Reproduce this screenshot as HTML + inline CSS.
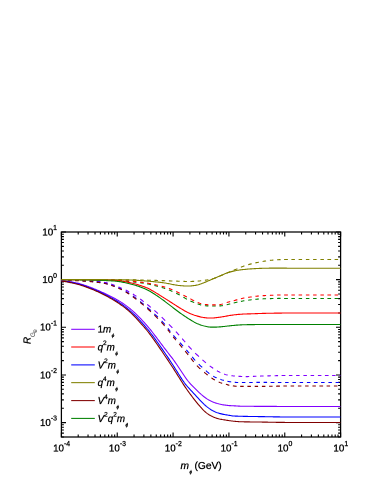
<!DOCTYPE html>
<html><head><meta charset="utf-8"><title>chart</title>
<style>
html,body{margin:0;padding:0;background:#fff;}
body{width:383px;height:495px;position:relative;overflow:hidden;font-family:"Liberation Sans",sans-serif;color:#000;}
.L{position:absolute;left:0;top:0;width:766px;height:990px;transform:scale(0.5);transform-origin:0 0;will-change:transform;}
.t{position:absolute;white-space:nowrap;line-height:1;}
.k{font-size:19.6px;-webkit-text-stroke:0.56px #000;}
.c{text-align:center;}
.s{font-size:13.8px;position:relative;top:-10.6px;}
.s2{font-size:13.0px;position:relative;top:-10.4px;}
.b{font-size:9.6px;position:relative;top:9.0px;left:0.8px;font-style:italic;}
.g{color:#333;-webkit-text-stroke:0;}
</style></head><body>
<svg width="383" height="495" viewBox="0 0 383 495" style="position:absolute;left:0;top:0"><rect x="61.4" y="232.0" width="279.2" height="205.0" fill="none" stroke="#000" stroke-width="1.25"/>
<path d="M61.40 437.0v-4.6M61.40 232.0v4.6M78.21 437.0v-2.5M78.21 232.0v2.5M88.04 437.0v-2.5M88.04 232.0v2.5M95.02 437.0v-2.5M95.02 232.0v2.5M100.43 437.0v-2.5M100.43 232.0v2.5M104.85 437.0v-2.5M104.85 232.0v2.5M108.59 437.0v-2.5M108.59 232.0v2.5M111.83 437.0v-2.5M111.83 232.0v2.5M114.68 437.0v-2.5M114.68 232.0v2.5M117.24 437.0v-4.6M117.24 232.0v4.6M134.05 437.0v-2.5M134.05 232.0v2.5M143.88 437.0v-2.5M143.88 232.0v2.5M150.86 437.0v-2.5M150.86 232.0v2.5M156.27 437.0v-2.5M156.27 232.0v2.5M160.69 437.0v-2.5M160.69 232.0v2.5M164.43 437.0v-2.5M164.43 232.0v2.5M167.67 437.0v-2.5M167.67 232.0v2.5M170.52 437.0v-2.5M170.52 232.0v2.5M173.08 437.0v-4.6M173.08 232.0v4.6M189.89 437.0v-2.5M189.89 232.0v2.5M199.72 437.0v-2.5M199.72 232.0v2.5M206.70 437.0v-2.5M206.70 232.0v2.5M212.11 437.0v-2.5M212.11 232.0v2.5M216.53 437.0v-2.5M216.53 232.0v2.5M220.27 437.0v-2.5M220.27 232.0v2.5M223.51 437.0v-2.5M223.51 232.0v2.5M226.36 437.0v-2.5M226.36 232.0v2.5M228.92 437.0v-4.6M228.92 232.0v4.6M245.73 437.0v-2.5M245.73 232.0v2.5M255.56 437.0v-2.5M255.56 232.0v2.5M262.54 437.0v-2.5M262.54 232.0v2.5M267.95 437.0v-2.5M267.95 232.0v2.5M272.37 437.0v-2.5M272.37 232.0v2.5M276.11 437.0v-2.5M276.11 232.0v2.5M279.35 437.0v-2.5M279.35 232.0v2.5M282.20 437.0v-2.5M282.20 232.0v2.5M284.76 437.0v-4.6M284.76 232.0v4.6M301.57 437.0v-2.5M301.57 232.0v2.5M311.40 437.0v-2.5M311.40 232.0v2.5M318.38 437.0v-2.5M318.38 232.0v2.5M323.79 437.0v-2.5M323.79 232.0v2.5M328.21 437.0v-2.5M328.21 232.0v2.5M331.95 437.0v-2.5M331.95 232.0v2.5M335.19 437.0v-2.5M335.19 232.0v2.5M338.04 437.0v-2.5M338.04 232.0v2.5M340.60 437.0v-4.6M340.60 232.0v4.6M61.4 436.94h2.5M340.6 436.94h-2.5M61.4 433.17h2.5M340.6 433.17h-2.5M61.4 429.98h2.5M340.6 429.98h-2.5M61.4 427.22h2.5M340.6 427.22h-2.5M61.4 424.78h2.5M340.6 424.78h-2.5M61.4 422.60h4.6M340.6 422.60h-4.6M61.4 408.26h2.5M340.6 408.26h-2.5M61.4 399.87h2.5M340.6 399.87h-2.5M61.4 393.91h2.5M340.6 393.91h-2.5M61.4 389.29h2.5M340.6 389.29h-2.5M61.4 385.52h2.5M340.6 385.52h-2.5M61.4 382.33h2.5M340.6 382.33h-2.5M61.4 379.57h2.5M340.6 379.57h-2.5M61.4 377.13h2.5M340.6 377.13h-2.5M61.4 374.95h4.6M340.6 374.95h-4.6M61.4 360.61h2.5M340.6 360.61h-2.5M61.4 352.22h2.5M340.6 352.22h-2.5M61.4 346.26h2.5M340.6 346.26h-2.5M61.4 341.64h2.5M340.6 341.64h-2.5M61.4 337.87h2.5M340.6 337.87h-2.5M61.4 334.68h2.5M340.6 334.68h-2.5M61.4 331.92h2.5M340.6 331.92h-2.5M61.4 329.48h2.5M340.6 329.48h-2.5M61.4 327.30h4.6M340.6 327.30h-4.6M61.4 312.96h2.5M340.6 312.96h-2.5M61.4 304.57h2.5M340.6 304.57h-2.5M61.4 298.61h2.5M340.6 298.61h-2.5M61.4 293.99h2.5M340.6 293.99h-2.5M61.4 290.22h2.5M340.6 290.22h-2.5M61.4 287.03h2.5M340.6 287.03h-2.5M61.4 284.27h2.5M340.6 284.27h-2.5M61.4 281.83h2.5M340.6 281.83h-2.5M61.4 279.65h4.6M340.6 279.65h-4.6M61.4 265.31h2.5M340.6 265.31h-2.5M61.4 256.92h2.5M340.6 256.92h-2.5M61.4 250.96h2.5M340.6 250.96h-2.5M61.4 246.34h2.5M340.6 246.34h-2.5M61.4 242.57h2.5M340.6 242.57h-2.5M61.4 239.38h2.5M340.6 239.38h-2.5M61.4 236.62h2.5M340.6 236.62h-2.5M61.4 234.18h2.5M340.6 234.18h-2.5M61.4 232.00h4.6M340.6 232.00h-4.6" stroke="#000" stroke-width="1.1" fill="none"/>
<path d="M71.2 329.3H94.8" stroke="#8000ff" stroke-width="1.05" fill="none"/>
<path d="M71.2 347.0H94.8" stroke="#ff0000" stroke-width="1.05" fill="none"/>
<path d="M71.2 364.9H94.8" stroke="#0000ff" stroke-width="1.05" fill="none"/>
<path d="M71.2 382.65H94.8" stroke="#808000" stroke-width="1.05" fill="none"/>
<path d="M71.2 400.6H94.8" stroke="#800000" stroke-width="1.05" fill="none"/>
<path d="M71.2 418.4H94.8" stroke="#008000" stroke-width="1.05" fill="none"/>
<path d="M61.4 279.91L62.4 279.92L63.4 279.93L64.2 279.94M67.9 280.02L68.9 280.04L69.9 280.07L70.9 280.10L71.4 280.11M75.2 280.24L76.2 280.27L77.2 280.31L78.2 280.34L78.7 280.36M82.4 280.51L83.4 280.55L84.4 280.59L85.4 280.63L85.9 280.65M89.7 280.83L90.7 280.88L91.7 280.93L92.7 280.99L93.2 281.02M96.7 281.27L97.7 281.36L98.7 281.45L99.7 281.56L100.4 281.65M103.9 282.22L104.9 282.42L105.9 282.64L106.9 282.87L107.7 283.05M111.2 284.09L112.2 284.43L113.2 284.79L114.2 285.17L114.7 285.37M118.4 286.89L119.4 287.30L120.4 287.73L121.4 288.15L121.9 288.37M125.7 290.11L126.7 290.60L127.7 291.11L128.7 291.64L129.2 291.91M132.9 294.09L133.9 294.72L134.9 295.37L135.9 296.04L136.4 296.38M140.2 299.06L141.2 299.80L142.2 300.56L143.2 301.32L143.7 301.70M147.2 304.43L148.2 305.22L149.2 306.03L150.2 306.84L150.9 307.46M154.4 310.44L155.4 311.32L156.4 312.21L157.4 313.11L157.9 313.57M161.7 317.10L162.7 318.09L163.7 319.10L164.7 320.12L165.2 320.63M168.9 324.38L169.9 325.37L170.9 326.38L171.9 327.39L172.4 327.91M175.9 331.60L176.9 332.69L177.9 333.78L178.9 334.89L179.2 335.17M182.2 338.61L183.2 339.79L184.2 340.98L185.2 342.18M188.4 345.96L189.4 347.06L190.4 348.15L191.4 349.21L191.7 349.48M195.2 353.05L196.2 354.04L197.2 355.00L198.2 355.95L198.9 356.66M202.4 359.83L203.4 360.70L204.4 361.56L205.4 362.41L205.9 362.83M209.7 365.85L210.7 366.60L211.7 367.32L212.7 368.02L213.2 368.36M216.9 370.73L217.9 371.30L218.9 371.84L219.9 372.35L220.4 372.59M224.2 374.15L225.2 374.46L226.2 374.73L227.2 374.97L227.7 375.08M231.4 375.70L232.4 375.82L233.4 375.93L234.4 376.02L234.9 376.07M238.4 376.31L239.4 376.36L240.4 376.41L241.4 376.45L242.2 376.48M245.7 376.58L246.7 376.59L247.7 376.58L248.7 376.57L249.2 376.56M252.9 376.42L253.9 376.37L254.9 376.32L255.9 376.27L256.4 376.25M260.1 376.10L261.1 376.07L262.1 376.04L263.1 376.01L263.6 376.00M267.4 375.89L268.4 375.87L269.4 375.84L270.4 375.81L270.9 375.80M274.6 375.71L275.6 375.68L276.6 375.66L277.6 375.64L278.1 375.63M281.6 375.57L282.6 375.55L283.6 375.54L284.6 375.53L285.4 375.52M288.9 375.50L289.9 375.50L290.9 375.50L291.9 375.50L292.4 375.50M296.1 375.50L297.1 375.50L298.1 375.50L299.1 375.50L299.6 375.50M303.4 375.50L304.4 375.50L305.4 375.50L306.4 375.50L306.9 375.50M310.6 375.50L311.6 375.50L312.6 375.50L313.6 375.50L314.1 375.50M317.9 375.50L318.9 375.50L319.9 375.50L320.9 375.50L321.4 375.50M324.9 375.50L325.9 375.50L326.9 375.50L327.9 375.50L328.6 375.50M332.1 375.50L333.1 375.50L334.1 375.50L335.1 375.50L335.6 375.50M339.4 375.50L340.4 375.50" stroke="#8000ff" stroke-width="1.1" fill="none"/>
<path d="M61.4 279.96L62.4 279.97L63.4 279.98L64.2 279.99M67.9 280.07L68.9 280.09L69.9 280.13L70.9 280.16L71.4 280.18M75.2 280.33L76.2 280.38L77.2 280.43L78.2 280.48L78.7 280.50M82.4 280.69L83.4 280.75L84.4 280.80L85.4 280.86L85.9 280.90M89.7 281.17L90.7 281.26L91.7 281.35L92.7 281.45L93.2 281.50M96.7 281.88L97.7 282.00L98.7 282.13L99.7 282.27L100.4 282.38M103.9 283.02L104.9 283.24L105.9 283.47L106.9 283.71L107.7 283.91M111.2 284.97L112.2 285.31L113.2 285.68L114.2 286.05L114.7 286.25M118.4 287.81L119.4 288.25L120.4 288.70L121.4 289.17L121.9 289.42M125.7 291.41L126.7 291.99L127.7 292.58L128.7 293.19L129.2 293.50M132.9 295.97L133.9 296.68L134.9 297.40L135.9 298.15L136.4 298.53M140.2 301.50L141.2 302.32L142.2 303.15L143.2 303.99L143.7 304.41M147.2 307.41L148.2 308.27L149.2 309.14L150.2 310.02L150.9 310.68M154.4 313.85L155.4 314.78L156.4 315.73L157.4 316.69L157.9 317.18M161.7 320.98L162.7 322.04L163.7 323.13L164.7 324.26L164.9 324.55M167.9 328.31L168.9 329.65L169.9 331.00L170.4 331.67M173.4 335.44L174.4 336.59L175.4 337.70L176.4 338.78M179.9 342.54L180.9 343.64L181.9 344.76L182.9 345.89L183.2 346.18M186.4 349.92L187.4 351.10L188.4 352.29L189.2 353.19M192.2 356.91L193.2 358.15L194.2 359.35L195.2 360.51M198.7 364.17L199.7 365.13L200.7 366.05L201.7 366.96L202.2 367.40M205.9 370.69L206.9 371.56L207.9 372.41L208.9 373.23L209.4 373.62M213.2 376.11L214.2 376.66L215.2 377.16L216.2 377.63L216.7 377.86M220.4 379.33L221.4 379.67L222.4 379.98L223.4 380.26L223.9 380.40M227.4 381.25L228.4 381.46L229.4 381.65L230.4 381.81L231.2 381.92M234.7 382.29L235.7 382.37L236.7 382.44L237.7 382.49L238.2 382.50M241.9 382.53L242.9 382.53L243.9 382.52L244.9 382.51L245.4 382.51M249.2 382.47L250.2 382.46L251.2 382.45L252.2 382.45L252.7 382.44M256.4 382.41L257.4 382.41L258.4 382.40L259.4 382.40L259.9 382.40M263.6 382.40L264.6 382.41L265.6 382.41L266.6 382.41L267.1 382.41M270.6 382.43L271.6 382.43L272.6 382.44L273.6 382.44L274.4 382.45M277.9 382.46L278.9 382.47L279.9 382.47L280.9 382.48L281.4 382.48M285.1 382.49L286.1 382.49L287.1 382.50L288.1 382.50L288.6 382.50M292.4 382.50L293.4 382.50L294.4 382.50L295.4 382.50L295.9 382.50M299.6 382.50L300.6 382.50L301.6 382.50L302.6 382.50L303.1 382.50M306.9 382.50L307.9 382.50L308.9 382.50L309.9 382.50L310.4 382.50M313.9 382.50L314.9 382.50L315.9 382.50L316.9 382.50L317.6 382.50M321.1 382.50L322.1 382.50L323.1 382.50L324.1 382.50L324.6 382.50M328.4 382.50L329.4 382.50L330.4 382.50L331.4 382.50L331.9 382.50M335.6 382.50L336.6 382.50L337.6 382.50L338.6 382.50L339.1 382.50" stroke="#0000ff" stroke-width="1.1" fill="none"/>
<path d="M61.4 280.02L62.4 280.04L63.4 280.07L64.2 280.09M67.9 280.23L68.9 280.27L69.9 280.31L70.9 280.36L71.4 280.39M75.2 280.58L76.2 280.64L77.2 280.70L78.2 280.76L78.7 280.79M82.4 281.03L83.4 281.10L84.4 281.16L85.4 281.23L85.9 281.27M89.7 281.56L90.7 281.65L91.7 281.74L92.7 281.84L93.2 281.89M96.7 282.26L97.7 282.38L98.7 282.51L99.7 282.64L100.4 282.75M103.9 283.36L104.9 283.57L105.9 283.79L106.9 284.03L107.7 284.22M111.2 285.28L112.2 285.63L113.2 286.00L114.2 286.38L114.7 286.58M118.4 288.18L119.4 288.64L120.4 289.11L121.4 289.60L121.9 289.86M125.7 291.96L126.7 292.56L127.7 293.19L128.7 293.83L129.2 294.16M132.9 296.72L133.9 297.45L134.9 298.19L135.9 298.96L136.4 299.35M140.2 302.38L141.2 303.22L142.2 304.07L143.2 304.92L143.7 305.36M147.2 308.43L148.2 309.32L149.2 310.23L150.2 311.13L150.9 311.82M154.4 315.12L155.4 316.08L156.4 317.07L157.4 318.07L157.9 318.57M161.4 322.22L162.4 323.31L163.4 324.42L164.4 325.56L164.7 325.85M167.7 329.56L168.7 330.89L169.7 332.23L170.2 332.90M173.2 336.79L174.2 338.03L175.2 339.24L175.9 340.14M179.2 343.97L180.2 345.15L181.2 346.34L182.2 347.53M185.2 351.13L186.2 352.34L187.2 353.57L188.2 354.83M190.9 358.36L191.9 359.64L192.9 360.91L193.7 361.83M196.9 365.52L197.9 366.55L198.9 367.54L199.9 368.48L200.4 368.95M204.2 372.24L205.2 373.08L206.2 373.91L207.2 374.72L207.7 375.11M211.4 377.87L212.4 378.54L213.4 379.18L214.4 379.80L214.9 380.11M218.7 382.07L219.7 382.48L220.7 382.82L221.7 383.13L222.2 383.27M225.9 384.28L226.9 384.58L227.9 384.88L228.9 385.16L229.4 385.29M232.9 385.91L233.9 386.03L234.9 386.13L235.9 386.22L236.7 386.27M240.2 386.38L241.2 386.38L242.2 386.39L243.2 386.39L243.7 386.39M247.4 386.39L248.4 386.39L249.4 386.40L250.4 386.40L250.9 386.40M254.7 386.40L255.7 386.40L256.6 386.40L257.6 386.40L258.1 386.40M261.9 386.39L262.9 386.39L263.9 386.38L264.9 386.37L265.4 386.36M269.1 386.31L270.1 386.29L271.1 386.27L272.1 386.26L272.6 386.25M276.1 386.18L277.1 386.16L278.1 386.14L279.1 386.12L279.9 386.11M283.4 386.05L284.4 386.04L285.4 386.03L286.4 386.02L286.9 386.01M290.6 386.00L291.6 386.00L292.6 386.00L293.6 386.00L294.1 386.00M297.9 386.00L298.9 386.00L299.9 386.00L300.9 386.00L301.4 386.00M305.1 386.00L306.1 386.00L307.1 386.00L308.1 386.00L308.6 386.00M312.4 386.00L313.4 386.00L314.4 386.00L315.4 386.00L315.9 386.00M319.4 386.00L320.4 386.00L321.4 386.00L322.4 386.00L323.1 386.00M326.6 386.00L327.6 386.00L328.6 386.00L329.6 386.00L330.1 386.00M333.9 386.00L334.9 386.00L335.9 386.00L336.9 386.00L337.4 386.00" stroke="#800000" stroke-width="1.1" fill="none"/>
<path d="M61.4 279.65L62.4 279.65L63.4 279.65L64.2 279.65M67.9 279.65L68.9 279.65L69.9 279.65L70.9 279.65L71.4 279.65M75.2 279.65L76.2 279.65L77.2 279.65L78.2 279.65L78.7 279.65M82.4 279.65L83.4 279.65L84.4 279.65L85.4 279.65L85.9 279.65M89.7 279.65L90.7 279.65L91.7 279.65L92.7 279.65L93.2 279.65M96.7 279.65L97.7 279.65L98.7 279.65L99.7 279.65L100.4 279.65M103.9 279.65L104.9 279.65L105.9 279.65L106.9 279.65L107.7 279.65M111.2 279.65L112.2 279.65L113.2 279.65L114.2 279.65L114.7 279.65M118.4 279.65L119.4 279.65L120.4 279.65L121.4 279.65L121.9 279.66M125.7 279.69L126.7 279.70L127.7 279.72L128.7 279.73L129.2 279.74M132.9 279.81L133.9 279.84L134.9 279.86L135.9 279.88L136.4 279.89M140.2 279.98L141.2 280.01L142.2 280.03L143.2 280.06L143.7 280.07M147.2 280.15L148.2 280.18L149.2 280.20L150.2 280.23L150.9 280.25M154.4 280.35L155.4 280.38L156.4 280.42L157.4 280.45L157.9 280.46M161.7 280.59L162.7 280.62L163.7 280.65L164.7 280.69L165.2 280.71M168.9 280.85L169.9 280.89L170.9 280.93L171.9 280.96L172.4 280.98M176.2 281.13L177.2 281.17L178.2 281.21L179.2 281.25L179.7 281.26M183.4 281.39L184.4 281.42L185.4 281.45L186.4 281.47L186.9 281.48M190.4 281.46L191.4 281.43L192.4 281.40L193.4 281.35L194.2 281.31M197.7 281.10L198.7 281.02L199.7 280.93L200.7 280.82L201.2 280.77M204.9 280.29L205.9 280.14L206.9 279.97L207.9 279.79L208.4 279.69M212.2 278.83L213.2 278.54L214.2 278.22L215.2 277.87L215.7 277.68M219.4 276.19L220.4 275.78L221.4 275.37L222.4 274.95L222.9 274.73M226.7 273.12L227.7 272.70L228.7 272.29L229.7 271.88L230.2 271.68M233.7 270.28L234.7 269.88L235.7 269.47L236.7 269.05L237.4 268.73M240.9 267.23L241.9 266.82L242.9 266.44L243.9 266.07L244.4 265.89M248.2 264.68L249.2 264.39L250.2 264.12L251.2 263.85L251.7 263.73M255.4 262.87L256.4 262.66L257.4 262.46L258.4 262.27L258.9 262.17M262.6 261.48L263.6 261.31L264.6 261.15L265.6 260.99L266.1 260.92M269.9 260.41L270.9 260.29L271.9 260.18L272.9 260.08L273.4 260.03M277.1 259.74L278.1 259.68L279.1 259.64L280.1 259.61L280.6 259.59M284.1 259.54L285.1 259.53L286.1 259.52L287.1 259.51L287.9 259.51M291.4 259.50L292.4 259.50L293.4 259.50L294.4 259.50L294.9 259.50M298.6 259.50L299.6 259.50L300.6 259.50L301.6 259.50L302.1 259.50M305.9 259.50L306.9 259.50L307.9 259.50L308.9 259.50L309.4 259.50M313.1 259.50L314.1 259.50L315.1 259.50L316.1 259.50L316.6 259.50M320.4 259.50L321.4 259.50L322.4 259.50L323.4 259.50L323.9 259.50M327.4 259.50L328.4 259.50L329.4 259.50L330.4 259.50L331.1 259.50M334.6 259.50L335.6 259.50L336.6 259.50L337.6 259.50L338.1 259.50" stroke="#808000" stroke-width="1.1" fill="none"/>
<path d="M61.4 279.65L62.4 279.65L63.4 279.65L64.2 279.65M67.9 279.66L68.9 279.66L69.9 279.66L70.9 279.67L71.4 279.67M75.2 279.68L76.2 279.69L77.2 279.69L78.2 279.70L78.7 279.70M82.4 279.73L83.4 279.73L84.4 279.74L85.4 279.75L85.9 279.75M89.7 279.79L90.7 279.80L91.7 279.81L92.7 279.82L93.2 279.82M96.7 279.86L97.7 279.87L98.7 279.88L99.7 279.90L100.4 279.91M103.9 279.99L104.9 280.03L105.9 280.06L106.9 280.10L107.7 280.14M111.2 280.30L112.2 280.35L113.2 280.41L114.2 280.46L114.7 280.48M118.4 280.70L119.4 280.76L120.4 280.82L121.4 280.89L121.9 280.93M125.7 281.21L126.7 281.29L127.7 281.37L128.7 281.46L129.2 281.50M132.9 281.87L133.9 281.98L134.9 282.09L135.9 282.21L136.4 282.27M140.2 282.76L141.2 282.91L142.2 283.05L143.2 283.20L143.7 283.28M147.2 283.86L148.2 284.05L149.2 284.25L150.2 284.48L150.9 284.65M154.4 285.54L155.4 285.80L156.4 286.06L157.4 286.33L157.9 286.46M161.7 287.49L162.7 287.78L163.7 288.08L164.7 288.40L165.2 288.57M168.9 289.93L169.9 290.34L170.9 290.75L171.9 291.18L172.4 291.40M176.2 293.19L177.2 293.70L178.2 294.23L179.2 294.77L179.7 295.04M183.4 297.18L184.4 297.78L185.4 298.37L186.4 298.94L186.9 299.22M190.4 300.97L191.4 301.42L192.4 301.85L193.4 302.26L194.2 302.56M197.7 303.86L198.7 304.22L199.7 304.57L200.7 304.90L201.2 305.04M204.9 305.72L205.9 305.79L206.9 305.85L207.9 305.90L208.4 305.92M212.2 305.99L213.2 305.99L214.2 305.99L215.2 305.98L215.7 305.97M219.4 305.89L220.4 305.84L221.4 305.74L222.4 305.61L222.9 305.53M226.7 304.72L227.7 304.49L228.7 304.26L229.7 304.02L230.2 303.90M233.7 303.02L234.7 302.77L235.7 302.53L236.7 302.30L237.4 302.13M240.9 301.37L241.9 301.17L242.9 300.99L243.9 300.82L244.4 300.74M248.2 300.19L249.2 300.06L250.2 299.94L251.2 299.82L251.7 299.76M255.4 299.33L256.4 299.23L257.4 299.14L258.4 299.07L258.9 299.03M262.6 298.85L263.6 298.81L264.6 298.77L265.6 298.74L266.1 298.73M269.9 298.61L270.9 298.58L271.9 298.55L272.9 298.52L273.4 298.51M277.1 298.43L278.1 298.42L279.1 298.41L280.1 298.41L280.6 298.41M284.1 298.44L285.1 298.45L286.1 298.47L287.1 298.48L287.9 298.48M291.4 298.50L292.4 298.50L293.4 298.50L294.4 298.50L294.9 298.50M298.6 298.50L299.6 298.50L300.6 298.50L301.6 298.50L302.1 298.50M305.9 298.50L306.9 298.50L307.9 298.50L308.9 298.50L309.4 298.50M313.1 298.50L314.1 298.50L315.1 298.50L316.1 298.50L316.6 298.50M320.4 298.50L321.4 298.50L322.4 298.50L323.4 298.50L323.9 298.50M327.4 298.50L328.4 298.50L329.4 298.50L330.4 298.50L331.1 298.50M334.6 298.50L335.6 298.50L336.6 298.50L337.6 298.50L338.1 298.50" stroke="#008000" stroke-width="1.1" fill="none"/>
<path d="M61.4 279.65L62.4 279.65L63.4 279.65L64.2 279.65M67.9 279.65L68.9 279.66L69.9 279.66L70.9 279.66L71.4 279.66M75.2 279.67L76.2 279.67L77.2 279.68L78.2 279.68L78.7 279.68M82.4 279.70L83.4 279.70L84.4 279.70L85.4 279.71L85.9 279.71M89.7 279.73L90.7 279.74L91.7 279.74L92.7 279.75L93.2 279.75M96.7 279.78L97.7 279.78L98.7 279.79L99.7 279.80L100.4 279.81M103.9 279.86L104.9 279.88L105.9 279.91L106.9 279.93L107.7 279.95M111.2 280.06L112.2 280.10L113.2 280.13L114.2 280.17L114.7 280.19M118.4 280.34L119.4 280.39L120.4 280.44L121.4 280.50L121.9 280.52M125.7 280.75L126.7 280.81L127.7 280.88L128.7 280.95L129.2 280.99M132.9 281.30L133.9 281.40L134.9 281.50L135.9 281.60L136.4 281.65M140.2 282.10L141.2 282.22L142.2 282.36L143.2 282.49L143.7 282.56M147.2 283.09L148.2 283.25L149.2 283.42L150.2 283.61L150.9 283.75M154.4 284.47L155.4 284.70L156.4 284.93L157.4 285.17L157.9 285.29M161.7 286.26L162.7 286.53L163.7 286.81L164.7 287.10L165.2 287.25M168.9 288.44L169.9 288.78L170.9 289.15L171.9 289.53L172.4 289.73M176.2 291.48L177.2 292.01L178.2 292.54L179.2 293.08L179.7 293.34M183.4 295.25L184.4 295.75L185.4 296.24L186.4 296.75L186.9 297.00M190.4 298.83L191.4 299.38L192.4 299.93L193.4 300.46L194.2 300.84M197.7 302.40L198.7 302.80L199.7 303.17L200.7 303.51L201.2 303.67M204.9 304.45L205.9 304.56L206.9 304.65L207.9 304.72L208.4 304.76M212.2 304.88L213.2 304.88L214.2 304.87L215.2 304.84L215.7 304.83M219.4 304.63L220.4 304.51L221.4 304.33L222.4 304.08L222.9 303.93M226.7 302.60L227.7 302.28L228.7 301.97L229.7 301.70L230.2 301.56M233.7 300.66L234.7 300.41L235.7 300.14L236.7 299.87L237.4 299.67M240.9 298.71L241.9 298.47L242.9 298.24L243.9 298.04L244.4 297.94M248.2 297.34L249.2 297.20L250.2 297.06L251.2 296.92L251.7 296.85M255.4 296.32L256.4 296.20L257.4 296.08L258.4 295.99L258.9 295.94M262.6 295.70L263.6 295.65L264.6 295.60L265.6 295.56L266.1 295.54M269.9 295.36L270.9 295.31L271.9 295.26L272.9 295.21L273.4 295.19M277.1 295.05L278.1 295.03L279.1 295.01L280.1 295.00L280.6 295.00M284.1 295.00L285.1 295.00L286.1 295.00L287.1 295.00L287.9 295.00M291.4 295.00L292.4 295.00L293.4 295.00L294.4 295.00L294.9 295.00M298.6 295.00L299.6 295.00L300.6 295.00L301.6 295.00L302.1 295.00M305.9 295.00L306.9 295.00L307.9 295.00L308.9 295.00L309.4 295.00M313.1 295.00L314.1 295.00L315.1 295.00L316.1 295.00L316.6 295.00M320.4 295.00L321.4 295.00L322.4 295.00L323.4 295.00L323.9 295.00M327.4 295.00L328.4 295.00L329.4 295.00L330.4 295.00L331.1 295.00M334.6 295.00L335.6 295.00L336.6 295.00L337.6 295.00L338.1 295.00" stroke="#ff0000" stroke-width="1.1" fill="none"/>
<path d="M61.4 280.55L62.4 280.61L63.4 280.70L64.4 280.81L65.4 280.93L66.4 281.07L67.4 281.22L68.4 281.38L69.4 281.54L70.4 281.72L71.4 281.90L72.4 282.09L73.4 282.29L74.4 282.50L75.4 282.71L76.4 282.92L77.4 283.15L78.4 283.40L79.4 283.65L80.4 283.93L81.4 284.22L82.4 284.53L83.4 284.85L84.4 285.18L85.4 285.52L86.4 285.88L87.4 286.24L88.4 286.60L89.4 286.97L90.4 287.35L91.4 287.72L92.4 288.11L93.4 288.49L94.4 288.89L95.4 289.30L96.4 289.71L97.4 290.14L98.4 290.57L99.4 291.01L100.4 291.46L101.4 291.92L102.4 292.39L103.4 292.86L104.4 293.33L105.4 293.81L106.4 294.30L107.4 294.79L108.4 295.28L109.4 295.77L110.4 296.27L111.4 296.77L112.4 297.28L113.4 297.80L114.4 298.32L115.4 298.85L116.4 299.40L117.4 299.96L118.4 300.53L119.4 301.12L120.4 301.72L121.4 302.35L122.4 303.00L123.4 303.67L124.4 304.36L125.4 305.08L126.4 305.82L127.4 306.58L128.4 307.36L129.4 308.17L130.4 308.99L131.4 309.83L132.4 310.69L133.4 311.57L134.4 312.47L135.4 313.40L136.4 314.36L137.4 315.33L138.4 316.33L139.4 317.35L140.4 318.39L141.4 319.44L142.4 320.51L143.4 321.60L144.4 322.70L145.4 323.82L146.4 324.96L147.4 326.11L148.4 327.29L149.4 328.49L150.4 329.72L151.4 330.96L152.4 332.22L153.4 333.50L154.4 334.79L155.4 336.10L156.4 337.41L157.4 338.73L158.4 340.06L159.4 341.39L160.4 342.73L161.4 344.06L162.4 345.39L163.4 346.72L164.4 348.05L165.4 349.36L166.4 350.67L167.4 351.97L168.4 353.26L169.4 354.54L170.4 355.84L171.4 357.14L172.4 358.45L173.4 359.79L174.4 361.16L175.4 362.56L176.4 364.00L177.4 365.46L178.4 366.94L179.4 368.44L180.4 369.94L181.4 371.45L182.4 372.97L183.4 374.49L184.4 376.01L185.4 377.50L186.4 378.93L187.4 380.26L188.4 381.50L189.4 382.67L190.4 383.78L191.4 384.85L192.4 385.89L193.4 386.90L194.4 387.90L195.4 388.90L196.4 389.89L197.4 390.87L198.4 391.84L199.4 392.78L200.4 393.70L201.4 394.59L202.4 395.44L203.4 396.27L204.4 397.05L205.4 397.79L206.4 398.48L207.4 399.13L208.4 399.73L209.4 400.29L210.4 400.82L211.4 401.30L212.4 401.74L213.4 402.15L214.4 402.54L215.4 402.89L216.4 403.21L217.4 403.52L218.4 403.79L219.4 404.05L220.4 404.28L221.4 404.49L222.4 404.68L223.4 404.84L224.4 404.99L225.4 405.13L226.4 405.26L227.4 405.39L228.4 405.51L229.4 405.60L230.4 405.67L231.4 405.72L232.4 405.76L233.4 405.80L234.4 405.85L235.4 405.91L236.4 405.98L237.4 406.05L238.4 406.11L239.4 406.16L240.4 406.20L241.4 406.22L242.4 406.24L243.4 406.25L244.4 406.26L245.4 406.27L246.4 406.28L247.4 406.28L248.4 406.29L249.4 406.30L250.4 406.30L251.4 406.31L252.4 406.32L253.4 406.32L254.4 406.33L255.4 406.33L256.4 406.33L257.4 406.34L258.4 406.34L259.4 406.35L260.4 406.35L261.4 406.36L262.4 406.36L263.4 406.37L264.4 406.37L265.4 406.38L266.4 406.38L267.4 406.38L268.4 406.39L269.4 406.39L270.4 406.40L271.4 406.40L272.4 406.41L273.4 406.41L274.4 406.41L275.4 406.42L276.4 406.42L277.4 406.43L278.4 406.43L279.4 406.43L280.4 406.44L281.4 406.44L282.4 406.44L283.4 406.44L284.4 406.44L285.4 406.45L286.4 406.45L287.4 406.45L288.4 406.45L289.4 406.45L290.4 406.45L291.4 406.45L292.4 406.45L293.4 406.45L294.4 406.45L295.4 406.45L296.4 406.45L297.4 406.45L298.4 406.45L299.4 406.45L300.4 406.45L301.4 406.45L302.4 406.45L303.4 406.45L304.4 406.45L305.4 406.45L306.4 406.45L307.4 406.45L308.4 406.45L309.4 406.45L310.4 406.45L311.4 406.45L312.4 406.45L313.4 406.45L314.4 406.45L315.4 406.45L316.4 406.45L317.4 406.45L318.4 406.45L319.4 406.45L320.4 406.45L321.4 406.45L322.4 406.45L323.4 406.45L324.4 406.45L325.4 406.45L326.4 406.45L327.4 406.45L328.4 406.45L329.4 406.45L330.4 406.45L331.4 406.45L332.4 406.45L333.4 406.45L334.4 406.45L335.4 406.45L336.4 406.45L337.4 406.45L338.4 406.45L339.4 406.45L340.4 406.45" stroke="#8000ff" stroke-width="1.1" fill="none"/>
<path d="M61.4 280.86L62.4 280.94L63.4 281.04L64.4 281.17L65.4 281.31L66.4 281.47L67.4 281.63L68.4 281.81L69.4 281.99L70.4 282.19L71.4 282.39L72.4 282.59L73.4 282.81L74.4 283.03L75.4 283.25L76.4 283.49L77.4 283.73L78.4 283.99L79.4 284.27L80.4 284.56L81.4 284.86L82.4 285.18L83.4 285.50L84.4 285.84L85.4 286.19L86.4 286.55L87.4 286.92L88.4 287.29L89.4 287.66L90.4 288.05L91.4 288.43L92.4 288.83L93.4 289.23L94.4 289.64L95.4 290.06L96.4 290.49L97.4 290.93L98.4 291.38L99.4 291.84L100.4 292.31L101.4 292.79L102.4 293.28L103.4 293.77L104.4 294.27L105.4 294.77L106.4 295.28L107.4 295.80L108.4 296.32L109.4 296.85L110.4 297.38L111.4 297.93L112.4 298.48L113.4 299.05L114.4 299.62L115.4 300.21L116.4 300.81L117.4 301.42L118.4 302.05L119.4 302.69L120.4 303.35L121.4 304.03L122.4 304.73L123.4 305.45L124.4 306.18L125.4 306.94L126.4 307.72L127.4 308.52L128.4 309.35L129.4 310.19L130.4 311.05L131.4 311.94L132.4 312.84L133.4 313.78L134.4 314.73L135.4 315.71L136.4 316.71L137.4 317.73L138.4 318.78L139.4 319.84L140.4 320.93L141.4 322.03L142.4 323.15L143.4 324.29L144.4 325.44L145.4 326.60L146.4 327.79L147.4 328.99L148.4 330.21L149.4 331.45L150.4 332.72L151.4 334.02L152.4 335.34L153.4 336.68L154.4 338.03L155.4 339.41L156.4 340.80L157.4 342.20L158.4 343.62L159.4 345.05L160.4 346.48L161.4 347.92L162.4 349.37L163.4 350.82L164.4 352.27L165.4 353.73L166.4 355.19L167.4 356.67L168.4 358.16L169.4 359.66L170.4 361.18L171.4 362.71L172.4 364.25L173.4 365.81L174.4 367.37L175.4 368.95L176.4 370.54L177.4 372.14L178.4 373.74L179.4 375.32L180.4 376.88L181.4 378.42L182.4 379.93L183.4 381.39L184.4 382.79L185.4 384.10L186.4 385.33L187.4 386.50L188.4 387.62L189.4 388.72L190.4 389.82L191.4 390.90L192.4 391.98L193.4 393.06L194.4 394.13L195.4 395.21L196.4 396.29L197.4 397.37L198.4 398.45L199.4 399.52L200.4 400.57L201.4 401.61L202.4 402.63L203.4 403.63L204.4 404.59L205.4 405.50L206.4 406.36L207.4 407.17L208.4 407.93L209.4 408.65L210.4 409.31L211.4 409.93L212.4 410.51L213.4 411.05L214.4 411.54L215.4 411.99L216.4 412.40L217.4 412.76L218.4 413.08L219.4 413.38L220.4 413.65L221.4 413.90L222.4 414.14L223.4 414.36L224.4 414.56L225.4 414.74L226.4 414.91L227.4 415.06L228.4 415.20L229.4 415.35L230.4 415.51L231.4 415.68L232.4 415.83L233.4 415.95L234.4 416.03L235.4 416.09L236.4 416.14L237.4 416.17L238.4 416.20L239.4 416.23L240.4 416.26L241.4 416.29L242.4 416.31L243.4 416.33L244.4 416.35L245.4 416.37L246.4 416.39L247.4 416.41L248.4 416.43L249.4 416.45L250.4 416.46L251.4 416.48L252.4 416.49L253.4 416.51L254.4 416.52L255.4 416.53L256.4 416.55L257.4 416.56L258.4 416.58L259.4 416.59L260.4 416.61L261.4 416.62L262.4 416.64L263.4 416.66L264.4 416.67L265.4 416.69L266.4 416.71L267.4 416.73L268.4 416.74L269.4 416.76L270.4 416.78L271.4 416.80L272.4 416.81L273.4 416.83L274.4 416.85L275.4 416.86L276.4 416.88L277.4 416.89L278.4 416.91L279.4 416.92L280.4 416.93L281.4 416.95L282.4 416.96L283.4 416.97L284.4 416.98L285.4 416.98L286.4 416.99L287.4 416.99L288.4 417.00L289.4 417.00L290.4 417.00L291.4 417.00L292.4 417.00L293.4 417.00L294.4 417.00L295.4 417.00L296.4 417.00L297.4 417.00L298.4 417.00L299.4 417.00L300.4 417.00L301.4 417.00L302.4 417.00L303.4 417.00L304.4 417.00L305.4 417.00L306.4 417.00L307.4 417.00L308.4 417.00L309.4 417.00L310.4 417.00L311.4 417.00L312.4 417.00L313.4 417.00L314.4 417.00L315.4 417.00L316.4 417.00L317.4 417.00L318.4 417.00L319.4 417.00L320.4 417.00L321.4 417.00L322.4 417.00L323.4 417.00L324.4 417.00L325.4 417.00L326.4 417.00L327.4 417.00L328.4 417.00L329.4 417.00L330.4 417.00L331.4 417.00L332.4 417.00L333.4 417.00L334.4 417.00L335.4 417.00L336.4 417.00L337.4 417.00L338.4 417.00L339.4 417.00L340.4 417.00" stroke="#0000ff" stroke-width="1.1" fill="none"/>
<path d="M61.4 281.17L62.4 281.25L63.4 281.37L64.4 281.51L65.4 281.66L66.4 281.83L67.4 282.01L68.4 282.19L69.4 282.39L70.4 282.59L71.4 282.80L72.4 283.02L73.4 283.25L74.4 283.48L75.4 283.72L76.4 283.96L77.4 284.22L78.4 284.49L79.4 284.78L80.4 285.08L81.4 285.39L82.4 285.72L83.4 286.06L84.4 286.40L85.4 286.76L86.4 287.13L87.4 287.50L88.4 287.88L89.4 288.26L90.4 288.65L91.4 289.05L92.4 289.45L93.4 289.86L94.4 290.28L95.4 290.71L96.4 291.15L97.4 291.61L98.4 292.07L99.4 292.54L100.4 293.02L101.4 293.51L102.4 294.00L103.4 294.51L104.4 295.02L105.4 295.54L106.4 296.06L107.4 296.59L108.4 297.13L109.4 297.68L110.4 298.24L111.4 298.81L112.4 299.39L113.4 299.98L114.4 300.58L115.4 301.20L116.4 301.83L117.4 302.47L118.4 303.12L119.4 303.79L120.4 304.48L121.4 305.18L122.4 305.90L123.4 306.64L124.4 307.40L125.4 308.18L126.4 308.98L127.4 309.80L128.4 310.65L129.4 311.51L130.4 312.40L131.4 313.32L132.4 314.28L133.4 315.27L134.4 316.29L135.4 317.35L136.4 318.43L137.4 319.53L138.4 320.64L139.4 321.76L140.4 322.89L141.4 324.01L142.4 325.13L143.4 326.26L144.4 327.40L145.4 328.56L146.4 329.76L147.4 330.99L148.4 332.26L149.4 333.55L150.4 334.88L151.4 336.23L152.4 337.59L153.4 338.98L154.4 340.39L155.4 341.81L156.4 343.25L157.4 344.69L158.4 346.15L159.4 347.61L160.4 349.08L161.4 350.55L162.4 352.03L163.4 353.51L164.4 354.98L165.4 356.46L166.4 357.94L167.4 359.43L168.4 360.92L169.4 362.43L170.4 363.95L171.4 365.48L172.4 367.02L173.4 368.57L174.4 370.13L175.4 371.70L176.4 373.28L177.4 374.87L178.4 376.46L179.4 378.05L180.4 379.63L181.4 381.21L182.4 382.78L183.4 384.33L184.4 385.85L185.4 387.34L186.4 388.80L187.4 390.22L188.4 391.62L189.4 393.00L190.4 394.35L191.4 395.70L192.4 397.02L193.4 398.33L194.4 399.61L195.4 400.88L196.4 402.12L197.4 403.34L198.4 404.53L199.4 405.70L200.4 406.84L201.4 407.95L202.4 409.03L203.4 410.08L204.4 411.06L205.4 411.98L206.4 412.83L207.4 413.60L208.4 414.31L209.4 414.97L210.4 415.56L211.4 416.09L212.4 416.58L213.4 417.02L214.4 417.41L215.4 417.78L216.4 418.11L217.4 418.41L218.4 418.69L219.4 418.95L220.4 419.18L221.4 419.38L222.4 419.57L223.4 419.73L224.4 419.89L225.4 420.05L226.4 420.21L227.4 420.37L228.4 420.52L229.4 420.67L230.4 420.81L231.4 420.94L232.4 421.06L233.4 421.18L234.4 421.29L235.4 421.39L236.4 421.49L237.4 421.57L238.4 421.63L239.4 421.68L240.4 421.72L241.4 421.76L242.4 421.78L243.4 421.81L244.4 421.83L245.4 421.85L246.4 421.87L247.4 421.88L248.4 421.90L249.4 421.91L250.4 421.93L251.4 421.94L252.4 421.95L253.4 421.97L254.4 421.98L255.4 421.99L256.4 422.00L257.4 422.01L258.4 422.03L259.4 422.04L260.4 422.06L261.4 422.07L262.4 422.09L263.4 422.10L264.4 422.12L265.4 422.14L266.4 422.16L267.4 422.17L268.4 422.19L269.4 422.21L270.4 422.23L271.4 422.24L272.4 422.26L273.4 422.28L274.4 422.30L275.4 422.31L276.4 422.33L277.4 422.34L278.4 422.36L279.4 422.37L280.4 422.38L281.4 422.40L282.4 422.41L283.4 422.42L284.4 422.42L285.4 422.43L286.4 422.44L287.4 422.44L288.4 422.45L289.4 422.45L290.4 422.45L291.4 422.45L292.4 422.45L293.4 422.45L294.4 422.45L295.4 422.45L296.4 422.45L297.4 422.45L298.4 422.45L299.4 422.45L300.4 422.45L301.4 422.45L302.4 422.45L303.4 422.45L304.4 422.45L305.4 422.45L306.4 422.45L307.4 422.45L308.4 422.45L309.4 422.45L310.4 422.45L311.4 422.45L312.4 422.45L313.4 422.45L314.4 422.45L315.4 422.45L316.4 422.45L317.4 422.45L318.4 422.45L319.4 422.45L320.4 422.45L321.4 422.45L322.4 422.45L323.4 422.45L324.4 422.45L325.4 422.45L326.4 422.45L327.4 422.45L328.4 422.45L329.4 422.45L330.4 422.45L331.4 422.45L332.4 422.45L333.4 422.45L334.4 422.45L335.4 422.45L336.4 422.45L337.4 422.45L338.4 422.45L339.4 422.45L340.4 422.45" stroke="#800000" stroke-width="1.1" fill="none"/>
<path d="M61.4 279.65L62.4 279.65L63.4 279.65L64.4 279.66L65.4 279.66L66.4 279.66L67.4 279.67L68.4 279.67L69.4 279.67L70.4 279.68L71.4 279.68L72.4 279.69L73.4 279.69L74.4 279.70L75.4 279.70L76.4 279.71L77.4 279.72L78.4 279.72L79.4 279.73L80.4 279.73L81.4 279.74L82.4 279.75L83.4 279.75L84.4 279.76L85.4 279.77L86.4 279.77L87.4 279.78L88.4 279.79L89.4 279.80L90.4 279.80L91.4 279.81L92.4 279.82L93.4 279.83L94.4 279.84L95.4 279.85L96.4 279.86L97.4 279.87L98.4 279.88L99.4 279.89L100.4 279.91L101.4 279.92L102.4 279.94L103.4 279.96L104.4 279.97L105.4 279.99L106.4 280.02L107.4 280.04L108.4 280.07L109.4 280.10L110.4 280.13L111.4 280.16L112.4 280.20L113.4 280.24L114.4 280.28L115.4 280.34L116.4 280.41L117.4 280.50L118.4 280.61L119.4 280.73L120.4 280.87L121.4 281.03L122.4 281.20L123.4 281.38L124.4 281.58L125.4 281.78L126.4 281.98L127.4 282.19L128.4 282.41L129.4 282.62L130.4 282.84L131.4 283.06L132.4 283.29L133.4 283.53L134.4 283.78L135.4 284.03L136.4 284.30L137.4 284.59L138.4 284.88L139.4 285.18L140.4 285.50L141.4 285.83L142.4 286.17L143.4 286.52L144.4 286.89L145.4 287.27L146.4 287.67L147.4 288.11L148.4 288.57L149.4 289.07L150.4 289.59L151.4 290.15L152.4 290.72L153.4 291.30L154.4 291.90L155.4 292.50L156.4 293.10L157.4 293.71L158.4 294.32L159.4 294.95L160.4 295.59L161.4 296.23L162.4 296.87L163.4 297.50L164.4 298.13L165.4 298.75L166.4 299.38L167.4 300.01L168.4 300.64L169.4 301.28L170.4 301.92L171.4 302.57L172.4 303.21L173.4 303.86L174.4 304.50L175.4 305.14L176.4 305.78L177.4 306.41L178.4 307.04L179.4 307.67L180.4 308.28L181.4 308.89L182.4 309.49L183.4 310.08L184.4 310.65L185.4 311.20L186.4 311.73L187.4 312.25L188.4 312.74L189.4 313.20L190.4 313.64L191.4 314.06L192.4 314.45L193.4 314.83L194.4 315.18L195.4 315.50L196.4 315.81L197.4 316.10L198.4 316.37L199.4 316.63L200.4 316.88L201.4 317.10L202.4 317.29L203.4 317.46L204.4 317.60L205.4 317.73L206.4 317.84L207.4 317.93L208.4 318.00L209.4 318.05L210.4 318.06L211.4 318.05L212.4 318.01L213.4 317.95L214.4 317.86L215.4 317.76L216.4 317.65L217.4 317.53L218.4 317.40L219.4 317.27L220.4 317.13L221.4 316.98L222.4 316.82L223.4 316.64L224.4 316.46L225.4 316.27L226.4 316.09L227.4 315.91L228.4 315.74L229.4 315.58L230.4 315.41L231.4 315.25L232.4 315.09L233.4 314.95L234.4 314.82L235.4 314.70L236.4 314.59L237.4 314.49L238.4 314.41L239.4 314.33L240.4 314.25L241.4 314.18L242.4 314.12L243.4 314.07L244.4 314.03L245.4 313.99L246.4 313.95L247.4 313.92L248.4 313.89L249.4 313.86L250.4 313.83L251.4 313.80L252.4 313.76L253.4 313.73L254.4 313.69L255.4 313.66L256.4 313.62L257.4 313.59L258.4 313.55L259.4 313.52L260.4 313.49L261.4 313.45L262.4 313.42L263.4 313.39L264.4 313.36L265.4 313.34L266.4 313.32L267.4 313.29L268.4 313.27L269.4 313.25L270.4 313.24L271.4 313.22L272.4 313.20L273.4 313.19L274.4 313.17L275.4 313.16L276.4 313.15L277.4 313.13L278.4 313.12L279.4 313.11L280.4 313.09L281.4 313.08L282.4 313.07L283.4 313.06L284.4 313.04L285.4 313.03L286.4 313.02L287.4 313.01L288.4 313.01L289.4 313.00L290.4 313.00L291.4 313.00L292.4 313.00L293.4 313.00L294.4 313.00L295.4 313.00L296.4 313.00L297.4 313.00L298.4 313.00L299.4 313.00L300.4 313.00L301.4 313.00L302.4 313.00L303.4 313.00L304.4 313.00L305.4 313.00L306.4 313.00L307.4 313.00L308.4 313.00L309.4 313.00L310.4 313.00L311.4 313.00L312.4 313.00L313.4 313.00L314.4 313.00L315.4 313.00L316.4 313.00L317.4 313.00L318.4 313.00L319.4 313.00L320.4 313.00L321.4 313.00L322.4 313.00L323.4 313.00L324.4 313.00L325.4 313.00L326.4 313.00L327.4 313.00L328.4 313.00L329.4 313.00L330.4 313.00L331.4 313.00L332.4 313.00L333.4 313.00L334.4 313.00L335.4 313.00L336.4 313.00L337.4 313.00L338.4 313.00L339.4 313.00L340.4 313.00" stroke="#ff0000" stroke-width="1.1" fill="none"/>
<path d="M61.4 279.65L62.4 279.65L63.4 279.65L64.4 279.66L65.4 279.66L66.4 279.67L67.4 279.67L68.4 279.68L69.4 279.69L70.4 279.70L71.4 279.71L72.4 279.72L73.4 279.73L74.4 279.74L75.4 279.76L76.4 279.77L77.4 279.78L78.4 279.80L79.4 279.81L80.4 279.83L81.4 279.84L82.4 279.86L83.4 279.87L84.4 279.89L85.4 279.91L86.4 279.93L87.4 279.95L88.4 279.97L89.4 279.99L90.4 280.02L91.4 280.05L92.4 280.08L93.4 280.11L94.4 280.14L95.4 280.17L96.4 280.21L97.4 280.24L98.4 280.28L99.4 280.31L100.4 280.35L101.4 280.39L102.4 280.43L103.4 280.46L104.4 280.50L105.4 280.55L106.4 280.59L107.4 280.64L108.4 280.69L109.4 280.74L110.4 280.79L111.4 280.85L112.4 280.92L113.4 280.99L114.4 281.06L115.4 281.15L116.4 281.25L117.4 281.36L118.4 281.49L119.4 281.64L120.4 281.80L121.4 281.97L122.4 282.16L123.4 282.35L124.4 282.56L125.4 282.77L126.4 282.99L127.4 283.22L128.4 283.45L129.4 283.69L130.4 283.93L131.4 284.18L132.4 284.45L133.4 284.72L134.4 285.00L135.4 285.30L136.4 285.62L137.4 285.94L138.4 286.28L139.4 286.64L140.4 287.00L141.4 287.38L142.4 287.77L143.4 288.17L144.4 288.59L145.4 289.02L146.4 289.48L147.4 289.96L148.4 290.47L149.4 291.01L150.4 291.58L151.4 292.18L152.4 292.80L153.4 293.43L154.4 294.07L155.4 294.72L156.4 295.38L157.4 296.04L158.4 296.72L159.4 297.41L160.4 298.12L161.4 298.84L162.4 299.57L163.4 300.31L164.4 301.06L165.4 301.82L166.4 302.58L167.4 303.35L168.4 304.12L169.4 304.89L170.4 305.65L171.4 306.41L172.4 307.18L173.4 307.94L174.4 308.70L175.4 309.46L176.4 310.22L177.4 310.98L178.4 311.73L179.4 312.47L180.4 313.19L181.4 313.91L182.4 314.61L183.4 315.30L184.4 315.99L185.4 316.65L186.4 317.31L187.4 317.96L188.4 318.60L189.4 319.22L190.4 319.84L191.4 320.45L192.4 321.06L193.4 321.64L194.4 322.20L195.4 322.72L196.4 323.21L197.4 323.67L198.4 324.10L199.4 324.51L200.4 324.89L201.4 325.24L202.4 325.55L203.4 325.83L204.4 326.08L205.4 326.30L206.4 326.50L207.4 326.69L208.4 326.85L209.4 326.98L210.4 327.08L211.4 327.14L212.4 327.17L213.4 327.17L214.4 327.15L215.4 327.12L216.4 327.08L217.4 327.03L218.4 326.98L219.4 326.92L220.4 326.85L221.4 326.77L222.4 326.66L223.4 326.55L224.4 326.43L225.4 326.30L226.4 326.18L227.4 326.06L228.4 325.95L229.4 325.84L230.4 325.73L231.4 325.62L232.4 325.52L233.4 325.43L234.4 325.33L235.4 325.25L236.4 325.17L237.4 325.10L238.4 325.03L239.4 324.97L240.4 324.91L241.4 324.85L242.4 324.81L243.4 324.77L244.4 324.74L245.4 324.71L246.4 324.68L247.4 324.66L248.4 324.64L249.4 324.62L250.4 324.61L251.4 324.60L252.4 324.59L253.4 324.59L254.4 324.58L255.4 324.57L256.4 324.57L257.4 324.56L258.4 324.56L259.4 324.55L260.4 324.55L261.4 324.54L262.4 324.54L263.4 324.53L264.4 324.53L265.4 324.53L266.4 324.52L267.4 324.52L268.4 324.52L269.4 324.51L270.4 324.51L271.4 324.51L272.4 324.51L273.4 324.51L274.4 324.50L275.4 324.50L276.4 324.50L277.4 324.50L278.4 324.50L279.4 324.50L280.4 324.50L281.4 324.50L282.4 324.50L283.4 324.50L284.4 324.50L285.4 324.50L286.4 324.50L287.4 324.50L288.4 324.50L289.4 324.50L290.4 324.50L291.4 324.50L292.4 324.50L293.4 324.50L294.4 324.50L295.4 324.50L296.4 324.50L297.4 324.50L298.4 324.50L299.4 324.50L300.4 324.50L301.4 324.50L302.4 324.50L303.4 324.50L304.4 324.50L305.4 324.50L306.4 324.50L307.4 324.50L308.4 324.50L309.4 324.50L310.4 324.50L311.4 324.50L312.4 324.50L313.4 324.50L314.4 324.50L315.4 324.50L316.4 324.50L317.4 324.50L318.4 324.50L319.4 324.50L320.4 324.50L321.4 324.50L322.4 324.50L323.4 324.50L324.4 324.50L325.4 324.50L326.4 324.50L327.4 324.50L328.4 324.50L329.4 324.50L330.4 324.50L331.4 324.50L332.4 324.50L333.4 324.50L334.4 324.50L335.4 324.50L336.4 324.50L337.4 324.50L338.4 324.50L339.4 324.50L340.4 324.50" stroke="#008000" stroke-width="1.1" fill="none"/>
<path d="M61.4 279.65L62.4 279.65L63.4 279.65L64.4 279.65L65.4 279.65L66.4 279.65L67.4 279.65L68.4 279.65L69.4 279.65L70.4 279.65L71.4 279.65L72.4 279.65L73.4 279.65L74.4 279.65L75.4 279.65L76.4 279.65L77.4 279.65L78.4 279.65L79.4 279.65L80.4 279.65L81.4 279.65L82.4 279.65L83.4 279.65L84.4 279.65L85.4 279.65L86.4 279.65L87.4 279.65L88.4 279.65L89.4 279.65L90.4 279.65L91.4 279.65L92.4 279.65L93.4 279.65L94.4 279.65L95.4 279.65L96.4 279.65L97.4 279.65L98.4 279.65L99.4 279.65L100.4 279.65L101.4 279.65L102.4 279.65L103.4 279.66L104.4 279.66L105.4 279.66L106.4 279.67L107.4 279.68L108.4 279.68L109.4 279.69L110.4 279.70L111.4 279.71L112.4 279.72L113.4 279.73L114.4 279.74L115.4 279.75L116.4 279.76L117.4 279.78L118.4 279.79L119.4 279.81L120.4 279.82L121.4 279.84L122.4 279.86L123.4 279.87L124.4 279.89L125.4 279.91L126.4 279.93L127.4 279.95L128.4 279.97L129.4 279.99L130.4 280.02L131.4 280.04L132.4 280.08L133.4 280.12L134.4 280.17L135.4 280.22L136.4 280.28L137.4 280.35L138.4 280.41L139.4 280.48L140.4 280.55L141.4 280.63L142.4 280.70L143.4 280.78L144.4 280.85L145.4 280.93L146.4 281.01L147.4 281.09L148.4 281.17L149.4 281.26L150.4 281.35L151.4 281.44L152.4 281.53L153.4 281.63L154.4 281.73L155.4 281.83L156.4 281.94L157.4 282.05L158.4 282.16L159.4 282.28L160.4 282.40L161.4 282.52L162.4 282.65L163.4 282.78L164.4 282.93L165.4 283.08L166.4 283.25L167.4 283.43L168.4 283.63L169.4 283.83L170.4 284.03L171.4 284.23L172.4 284.42L173.4 284.60L174.4 284.78L175.4 284.95L176.4 285.12L177.4 285.28L178.4 285.42L179.4 285.55L180.4 285.65L181.4 285.74L182.4 285.82L183.4 285.89L184.4 285.95L185.4 286.00L186.4 286.04L187.4 286.07L188.4 286.07L189.4 286.04L190.4 285.99L191.4 285.90L192.4 285.79L193.4 285.66L194.4 285.51L195.4 285.34L196.4 285.14L197.4 284.92L198.4 284.66L199.4 284.35L200.4 284.02L201.4 283.66L202.4 283.28L203.4 282.90L204.4 282.51L205.4 282.12L206.4 281.71L207.4 281.29L208.4 280.86L209.4 280.43L210.4 279.99L211.4 279.56L212.4 279.13L213.4 278.71L214.4 278.29L215.4 277.87L216.4 277.44L217.4 277.02L218.4 276.60L219.4 276.18L220.4 275.75L221.4 275.32L222.4 274.88L223.4 274.44L224.4 274.01L225.4 273.60L226.4 273.21L227.4 272.85L228.4 272.51L229.4 272.19L230.4 271.89L231.4 271.61L232.4 271.35L233.4 271.10L234.4 270.88L235.4 270.68L236.4 270.50L237.4 270.33L238.4 270.18L239.4 270.04L240.4 269.91L241.4 269.78L242.4 269.67L243.4 269.56L244.4 269.45L245.4 269.34L246.4 269.24L247.4 269.15L248.4 269.06L249.4 268.98L250.4 268.90L251.4 268.83L252.4 268.76L253.4 268.70L254.4 268.64L255.4 268.59L256.4 268.53L257.4 268.49L258.4 268.44L259.4 268.41L260.4 268.37L261.4 268.34L262.4 268.31L263.4 268.28L264.4 268.25L265.4 268.23L266.4 268.21L267.4 268.20L268.4 268.18L269.4 268.17L270.4 268.16L271.4 268.15L272.4 268.14L273.4 268.13L274.4 268.12L275.4 268.12L276.4 268.11L277.4 268.11L278.4 268.10L279.4 268.10L280.4 268.10L281.4 268.11L282.4 268.12L283.4 268.13L284.4 268.14L285.4 268.16L286.4 268.17L287.4 268.18L288.4 268.19L289.4 268.19L290.4 268.20L291.4 268.20L292.4 268.20L293.4 268.20L294.4 268.20L295.4 268.20L296.4 268.20L297.4 268.20L298.4 268.20L299.4 268.20L300.4 268.20L301.4 268.20L302.4 268.20L303.4 268.20L304.4 268.20L305.4 268.20L306.4 268.20L307.4 268.20L308.4 268.20L309.4 268.20L310.4 268.20L311.4 268.20L312.4 268.20L313.4 268.20L314.4 268.20L315.4 268.20L316.4 268.20L317.4 268.20L318.4 268.20L319.4 268.20L320.4 268.20L321.4 268.20L322.4 268.20L323.4 268.20L324.4 268.20L325.4 268.20L326.4 268.20L327.4 268.20L328.4 268.20L329.4 268.20L330.4 268.20L331.4 268.20L332.4 268.20L333.4 268.20L334.4 268.20L335.4 268.20L336.4 268.20L337.4 268.20L338.4 268.20L339.4 268.20L340.4 268.20" stroke="#808000" stroke-width="1.1" fill="none"/></svg>
<div class="L">
<div class="t k" style="right:652.0px;top:454.8px">10<span class="s">1</span></div>
<div class="t k" style="right:652.0px;top:550.1px">10<span class="s">0</span></div>
<div class="t k" style="right:652.0px;top:645.4px">10<span class="s">-1</span></div>
<div class="t k" style="right:652.0px;top:740.7px">10<span class="s">-2</span></div>
<div class="t k" style="right:652.0px;top:836.0px">10<span class="s">-3</span></div>
<div class="t k c" style="left:83.2px;width:80.0px;top:886.6px">10<span class="s">-4</span></div>
<div class="t k c" style="left:194.9px;width:80.0px;top:886.6px">10<span class="s">-3</span></div>
<div class="t k c" style="left:306.6px;width:80.0px;top:886.6px">10<span class="s">-2</span></div>
<div class="t k c" style="left:418.2px;width:80.0px;top:886.6px">10<span class="s">-1</span></div>
<div class="t k c" style="left:529.9px;width:80.0px;top:886.6px">10<span class="s">0</span></div>
<div class="t k c" style="left:641.6px;width:80.0px;top:886.6px">10<span class="s">1</span></div>
<div class="t k" style="font-size:20.4px;left:361.0px;top:920.9px"><i>m</i><span class="b">&#981;</span> (GeV)</div>
<div class="t k" style="left:0;top:0;font-size:19.6px;transform-origin:0 0;transform:translate(44.6px,688.0px) rotate(-90deg)"><i>R</i></div>
<div class="t k g" style="left:0;top:0;font-size:12.8px;transform-origin:0 0;transform:translate(59.6px,674.2px) rotate(-90deg)">G</div>
<div class="t k g" style="left:0;top:0;font-size:12.8px;transform-origin:0 0;transform:translate(63.8px,665.6px) rotate(-90deg)">e</div>
<div class="t k" style="left:195.2px;top:649.4px">1<i>m</i><span class="b">&#981;</span></div>
<div class="t k" style="left:195.2px;top:684.8px"><i>q</i><span class="s2">2</span><i>m</i><span class="b">&#981;</span></div>
<div class="t k" style="left:195.2px;top:720.6px"><i>V</i><span class="s2">2</span><i>m</i><span class="b">&#981;</span></div>
<div class="t k" style="left:195.2px;top:756.4px"><i>q</i><span class="s2">4</span><i>m</i><span class="b">&#981;</span></div>
<div class="t k" style="left:195.2px;top:792.0px"><i>V</i><span class="s2">4</span><i>m</i><span class="b">&#981;</span></div>
<div class="t k" style="left:195.2px;top:827.6px"><i>V</i><span class="s2">2</span><i>q</i><span class="s2">2</span><i>m</i><span class="b">&#981;</span></div>
</div>
</body></html>
